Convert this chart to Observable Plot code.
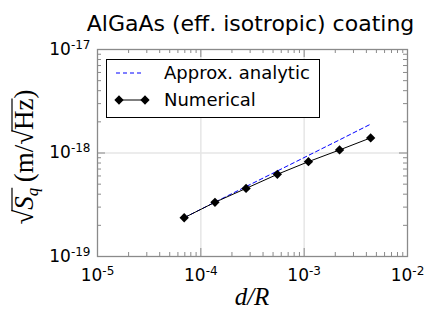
<!DOCTYPE html>
<html>
<head>
<meta charset="utf-8">
<script src="https://cdn.jsdelivr.net/npm/d3@7"></script>
<script src="https://cdn.jsdelivr.net/npm/@observablehq/plot@0.6"></script>
<style>
  html, body { margin: 0; padding: 0; background: #fff; }
</style>
</head>
<body>
<div id="chart"></div>
<script>
// ---- data ----
const title = "AlGaAs (eff. isotropic) coating";
const dOverR = [6.9e-5, 1.37e-4, 2.74e-4, 5.5e-4, 1.1e-3, 2.2e-3, 4.4e-3];
const numerical = [2.37e-19, 3.34e-19, 4.55e-19, 6.22e-19, 8.25e-19, 1.07e-18, 1.40e-18];
const analytic = [2.37e-19, 3.35e-19, 4.74e-19, 6.70e-19, 9.48e-19, 1.34e-18, 1.90e-18];
const xMajor = [1e-5, 1e-4, 1e-3, 1e-2];
const yMajor = [1e-19, 1e-18, 1e-17];
const xMinor = [2e-5,3e-5,4e-5,5e-5,6e-5,7e-5,8e-5,9e-5,
                2e-4,3e-4,4e-4,5e-4,6e-4,7e-4,8e-4,9e-4,
                2e-3,3e-3,4e-3,5e-3,6e-3,7e-3,8e-3,9e-3];
const yMinor = [2e-19,3e-19,4e-19,5e-19,6e-19,7e-19,8e-19,9e-19,
                2e-18,3e-18,4e-18,5e-18,6e-18,7e-18,8e-18,9e-18];
const seriesNames = ["Approx. analytic", "Numerical"];

const numData = dOverR.map((x, i) => ({x, y: numerical[i]}));
const anaData = dOverR.map((x, i) => ({x, y: analytic[i]}));
const expLabel = d => "10^" + Math.round(Math.log10(d));

const W = 436, H = 327, mL = 97, mR = 29, mT = 49, mB = 71;
const pw = W - mL - mR, ph = H - mT - mB;
const axisColor = "#8a8a8a";

const plot = Plot.plot({
  width: W, height: H,
  marginLeft: mL, marginRight: mR, marginTop: mT, marginBottom: mB,
  style: {fontFamily: "DejaVu Sans", fontSize: "17px", background: "#fff", overflow: "visible"},
  x: {type: "log", domain: [1e-5, 1e-2], axis: null},
  y: {type: "log", domain: [1e-19, 1e-17], axis: null},
  marks: [
    // grid
    Plot.ruleX(xMajor.slice(1, -1), {x: d => d, stroke: "#e6e6e6", strokeWidth: 1.5}),
    Plot.ruleY(yMajor.slice(1, -1), {y: d => d, stroke: "#e6e6e6", strokeWidth: 1.5}),
    // inward ticks
    Plot.ruleX(xMajor, {x: d => d, insetTop: ph - 8, stroke: axisColor}),
    Plot.ruleX(xMajor, {x: d => d, insetBottom: ph - 8, stroke: axisColor}),
    Plot.ruleX(xMinor, {x: d => d, insetTop: ph - 4, stroke: axisColor}),
    Plot.ruleX(xMinor, {x: d => d, insetBottom: ph - 4, stroke: axisColor}),
    Plot.ruleY(yMajor, {y: d => d, insetRight: pw - 8, stroke: axisColor}),
    Plot.ruleY(yMajor, {y: d => d, insetLeft: pw - 8, stroke: axisColor}),
    Plot.ruleY(yMinor, {y: d => d, insetRight: pw - 4, stroke: axisColor}),
    Plot.ruleY(yMinor, {y: d => d, insetLeft: pw - 4, stroke: axisColor}),
    Plot.frame({stroke: axisColor, strokeWidth: 1.3}),
    // data
    Plot.line(anaData, {x: "x", y: "y", stroke: "#0000ff", strokeWidth: 1, strokeDasharray: "4,3"}),
    Plot.line(numData, {x: "x", y: "y", stroke: "#000", strokeWidth: 1}),
    Plot.dot(numData, {x: "x", y: "y", symbol: "diamond2", r: 4.2, fill: "#000", stroke: "none"}),
    // tick labels
    Plot.text(xMajor, {x: d => d, frameAnchor: "bottom", dy: 24, text: expLabel, textAnchor: "middle", fontSize: 17, fill: "#000"}),
    Plot.text(yMajor, {y: d => d, frameAnchor: "left", dx: -7, text: expLabel, textAnchor: "end", fontSize: 17, fill: "#000"}),
    // title
    Plot.text([title], {frameAnchor: "top", dx: -2, dy: -19, lineAnchor: "bottom", text: d => d, fontSize: 22, fill: "#000"})
  ]
});

const svg = d3.select(plot);

// superscripts for tick labels
svg.selectAll("text").each(function() {
  const m = this.textContent.match(/^10\^(-?\d+)$/);
  if (!m) return;
  const t = d3.select(this);
  t.text(null);
  t.append("tspan").text("10");
  t.append("tspan").attr("dy", "-0.5em").attr("font-size", "12px").text(m[1]);
});

// legend
const lg = svg.append("g").attr("font-family", "DejaVu Sans").attr("font-size", "18px")
  .attr("text-anchor", "start");
lg.append("rect").attr("x", 106.5).attr("y", 59.5).attr("width", 213).attr("height", 58)
  .attr("fill", "#fff").attr("stroke", "#000").attr("stroke-width", 1);
lg.append("line").attr("x1", 116).attr("x2", 143).attr("y1", 73).attr("y2", 73)
  .attr("stroke", "#0000ff").attr("stroke-dasharray", "4,3");
lg.append("text").attr("x", 164).attr("y", 79).text(seriesNames[0]);
lg.append("line").attr("x1", 119).attr("x2", 145).attr("y1", 100).attr("y2", 100)
  .attr("stroke", "#000");
[119, 145].forEach(cx => lg.append("path")
  .attr("d", d3.symbol(d3.symbolDiamond2, 55)())
  .attr("transform", `translate(${cx},100)`).attr("fill", "#000"));
lg.append("text").attr("x", 164).attr("y", 106).text(seriesNames[1]);

// axis labels
svg.append("text").attr("x", 252).attr("y", 305).attr("text-anchor", "middle")
  .attr("font-family", "Liberation Serif").attr("font-size", "25px").attr("font-style", "italic")
  .text("d/R");

const yg = svg.append("g").attr("transform", "translate(33,157) rotate(-90)");
const yl = yg.append("text").attr("text-anchor", "middle")
  .attr("font-family", "Liberation Serif").attr("font-size", "27px");
yl.append("tspan").text("√");
yl.append("tspan").attr("font-style", "italic").text("S");
yl.append("tspan").attr("font-style", "italic").attr("font-size", "17px").attr("dy", "5").text("q");
yl.append("tspan").attr("dy", "-5").text("\u2009(m/√");
yl.append("tspan").text("Hz");
yl.append("tspan").text(")");

document.getElementById("chart").appendChild(plot);

// radical overlines
const tn = yl.node();
const ex = i => tn.getExtentOfChar(i);
const ov = (a, b) => {
  const e0 = ex(a), e1 = ex(b);
  yg.append("line").attr("x1", e0.x + e0.width - 1.5).attr("x2", e1.x + e1.width)
    .attr("y1", -21).attr("y2", -21).attr("stroke", "#000").attr("stroke-width", 1.2);
};
ov(0, 2);
ov(7, 9);
</script>
</body>
</html>
